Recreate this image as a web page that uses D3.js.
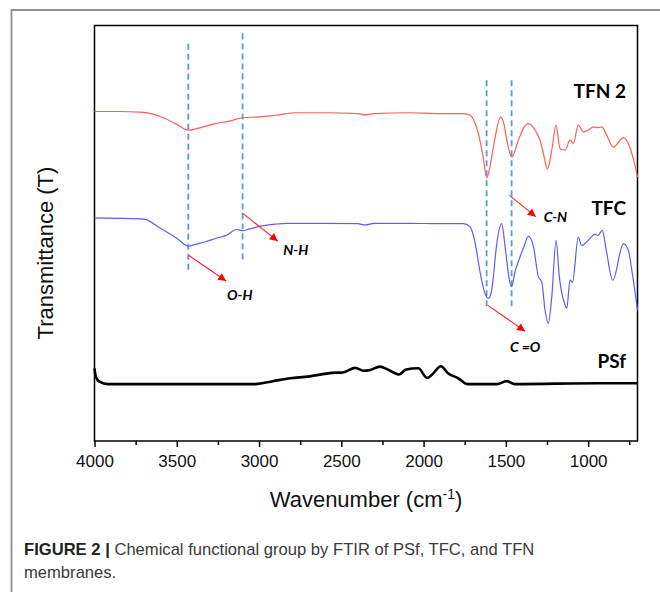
<!DOCTYPE html>
<html><head><meta charset="utf-8">
<script src="https://cdn.jsdelivr.net/npm/d3@7"></script>
<style>body{margin:0;background:#fff}svg{display:block}</style>
</head><body>
<svg id="chart" width="660" height="592"></svg>
<script>
// ---- data (wavenumber cm^-1, transmittance a.u.) ----
const tfn2 = [[4000,79.3],[3850,79.3],[3700,79.1],[3600,78.1],[3500,76.2],[3430,74.8],[3350,75.5],[3266,76.4],[3180,77.0],[3100,77.8],[3000,78.0],[2900,78.4],[2770,79.0],[2600,79.0],[2400,78.8],[2355,78.5],[2300,78.8],[2100,79.0],[1900,78.8],[1760,78.8],[1717,78.4],[1690,76.7],[1667,74.0],[1640,68.8],[1616,63.4],[1595,66.3],[1576,70.7],[1531,78.0],[1510,76.0],[1494,72.4],[1464,68.3],[1424,72.4],[1390,75.5],[1363,76.4],[1322,74.8],[1292,72.4],[1265,68.0],[1248,65.4],[1221,70.0],[1195,76.0],[1171,70.4],[1140,70.0],[1110,72.4],[1090,71.6],[1060,76.0],[1029,74.4],[1001,74.8],[968,75.6],[940,75.4],[917,75.6],[887,73.6],[847,70.7],[786,73.0],[756,71.6],[720,67.1],[700,63.5]];
const tfc = [[4000,53.7],[3850,53.6],[3700,53.4],[3600,51.2],[3500,48.8],[3430,46.9],[3380,47.4],[3330,47.9],[3260,48.8],[3200,49.5],[3135,50.9],[3100,50.6],[3060,51.0],[3005,51.6],[2900,52.2],[2830,52.4],[2600,52.4],[2400,52.3],[2355,52.0],[2300,52.4],[2100,52.4],[1900,52.3],[1760,52.3],[1717,51.5],[1690,48.3],[1657,40.7],[1633,36.3],[1607,34.3],[1590,35.5],[1576,39.5],[1560,45.9],[1526,52.3],[1502,45.9],[1482,39.5],[1466,37.1],[1442,41.1],[1421,43.5],[1391,46.7],[1363,49.3],[1332,46.7],[1302,39.5],[1282,38.3],[1262,31.5],[1242,28.3],[1221,34.7],[1195,48.3],[1175,39.5],[1140,32.7],[1130,31.9],[1110,38.7],[1095,38.2],[1060,49.1],[1040,47.1],[1020,47.5],[990,48.7],[960,49.8],[940,49.5],[914,50.7],[890,45.9],[850,38.7],[786,47.5],[756,45.9],[730,39.9],[700,31.5]];
const psf = [[4000,17.5],[3992,15.5],[3971,14.3],[3918,13.7],[3022,13.7],[2916,14.4],[2810,15.1],[2703,15.5],[2555,16.4],[2490,16.5],[2415,17.6],[2362,16.9],[2324,17.1],[2266,17.9],[2213,17.1],[2149,16.0],[2107,17.2],[2032,17.5],[1979,15.2],[1948,16.0],[1895,18.0],[1852,16.3],[1789,15.1],[1735,13.7],[1554,13.7],[1495,14.4],[1446,13.7],[934,13.9],[700,13.9]];
const seriesNames = ["TFN 2", "TFC", "PSf"];
const seriesLabelLevel = [82.5, 54.3, 17.5];
const majorTicks = [4000, 3500, 3000, 2500, 2000, 1500, 1000];
const minorTicks = [3750, 3250, 2750, 2250, 1750, 1250, 750];
// dashed band markers: wavenumber, top, bottom (transmittance units)
const bandWavenumbers = [3430, 3100, 1617, 1465];
const bandTops = [95.6, 98.1, 86.8, 86.8];
const bandBottoms = [41.1, 43.5, 32.3, 32.3];
// bond annotations
const bondLabels = ["O-H", "N-H", "C-N", "C =O"];
const bondArrowFrom = [[3428,44.7],[3103,54.9],[1478,59.1],[1611,32.7]];
const bondArrowTo = [[3200,38.5],[2886,48.1],[1318,54.0],[1383,26.4]];
const bondLabelAt = [[3117,33.9],[2777,44.7],[1199,52.8],[1383,21.5]];
const xTitle = "Wavenumber (cm";
const yTitle = "Transmittance (T)";
const captionBold = "FIGURE 2 |";
const captionLine1 = " Chemical functional group by FTIR of PSf, TFC, and TFN";
const captionLine2 = "membranes.";

// ---- layout ----
const svg = d3.select("#chart");
const L = 94.5, R = 637.5, T = 25.5, B = 441;
const x = d3.scaleLinear().domain([4000, 700]).range([L, R]);
const y = d3.scaleLinear().domain([0, 100]).range([B, T]);

// outer figure frame
svg.append("path").attr("d", `M11.5,592 L11.5,10 L660,10`)
  .attr("fill", "none").attr("stroke", "#8f8f8f").attr("stroke-width", 1.8);

// axis ticks
const gx = svg.append("g").attr("transform", `translate(0,${B})`);
gx.call(d3.axisBottom(x).tickValues(majorTicks).tickSize(6).tickPadding(8).tickFormat(d3.format("d")))
  .call(g => g.select(".domain").remove());
gx.selectAll(".tick line").attr("stroke", "#000").attr("stroke-width", 1.5);
gx.selectAll(".tick text").attr("font-family", "'Liberation Sans', Arial, sans-serif")
  .attr("font-size", 17).attr("fill", "#111");
const gm = svg.append("g").attr("transform", `translate(0,${B})`);
gm.call(d3.axisBottom(x).tickValues(minorTicks).tickSize(4).tickFormat(""))
  .call(g => g.select(".domain").remove());
gm.selectAll(".tick line").attr("stroke", "#000").attr("stroke-width", 1.5);

// plot frame
svg.append("rect").attr("x", L).attr("y", T).attr("width", R - L).attr("height", B - T)
  .attr("fill", "none").attr("stroke", "#000").attr("stroke-width", 1.5);

// dashed band lines
svg.append("g").selectAll("line").data(bandWavenumbers).join("line")
  .attr("x1", d => x(d)).attr("x2", d => x(d))
  .attr("y1", (d, i) => y(bandTops[i])).attr("y2", (d, i) => y(bandBottoms[i]))
  .attr("stroke", "#5b9bd5").attr("stroke-width", 1.8).attr("stroke-dasharray", "6,4");

// spectra
const line = d3.line().x(d => x(d[0])).y(d => y(d[1])).curve(d3.curveMonotoneX);
const series = [tfn2, tfc, psf];
const colors = ["#ff5c5c", "#5c5cff", "#000"];
const widths = [1.2, 1.2, 2.6];
svg.append("g").selectAll("path").data(series).join("path")
  .attr("d", line).attr("fill", "none")
  .attr("stroke", (d, i) => colors[i]).attr("stroke-width", (d, i) => widths[i])
  .attr("stroke-linejoin", "round");

// series labels
svg.append("g").selectAll("text").data(seriesNames).join("text")
  .attr("x", R - 11.5).attr("y", (d, i) => y(seriesLabelLevel[i]))
  .attr("text-anchor", "end").attr("font-family", "Lato, 'Open Sans', sans-serif")
  .attr("font-weight", 700).attr("font-size", 19).attr("fill", "#000").text(d => d);

// arrows
const defs = svg.append("defs");
defs.append("marker").attr("id", "arrow").attr("viewBox", "0 0 10 10")
  .attr("refX", 10).attr("refY", 5).attr("markerWidth", 9).attr("markerHeight", 8)
  .attr("markerUnits", "userSpaceOnUse").attr("orient", "auto")
  .append("path").attr("d", "M0,0 L10,5 L0,10 Z").attr("fill", "#ff0000");
svg.append("g").selectAll("line").data(bondLabels).join("line")
  .attr("x1", (d, i) => x(bondArrowFrom[i][0])).attr("y1", (d, i) => y(bondArrowFrom[i][1]))
  .attr("x2", (d, i) => x(bondArrowTo[i][0])).attr("y2", (d, i) => y(bondArrowTo[i][1]))
  .attr("stroke", "#ff2020").attr("stroke-width", 1.1).attr("marker-end", "url(#arrow)");
svg.append("g").selectAll("text").data(bondLabels).join("text")
  .attr("x", (d, i) => x(bondLabelAt[i][0])).attr("y", (d, i) => y(bondLabelAt[i][1]))
  .attr("text-anchor", "middle").attr("font-family", "Lato, 'Open Sans', sans-serif")
  .attr("font-weight", 700).attr("font-style", "italic").attr("font-size", 14).attr("fill", "#000")
  .text(d => d);

// axis titles
const xt = svg.append("text").attr("x", (L + R) / 2).attr("y", 507).attr("text-anchor", "middle")
  .attr("font-family", "'Liberation Sans', Arial, sans-serif").attr("font-size", 22).attr("fill", "#111");
xt.append("tspan").text(xTitle);
xt.append("tspan").attr("dy", -8).attr("font-size", 14).text("-1");
xt.append("tspan").attr("dy", 8).text(")");
svg.append("text").attr("transform", "translate(53,253) rotate(-90)").attr("text-anchor", "middle")
  .attr("font-family", "'Liberation Sans', Arial, sans-serif").attr("font-size", 22).attr("fill", "#111")
  .text(yTitle);

// caption
const cap = svg.append("text").attr("x", 24).attr("y", 555)
  .attr("font-family", "'Liberation Sans', Arial, sans-serif").attr("font-size", 16.6).attr("fill", "#3a3a3a");
cap.append("tspan").attr("font-weight", 700).attr("fill", "#222").text(captionBold);
cap.append("tspan").text(captionLine1);
svg.append("text").attr("x", 24).attr("y", 578)
  .attr("font-family", "'Liberation Sans', Arial, sans-serif").attr("font-size", 16.6).attr("fill", "#3a3a3a")
  .text(captionLine2);
</script>
</body></html>
